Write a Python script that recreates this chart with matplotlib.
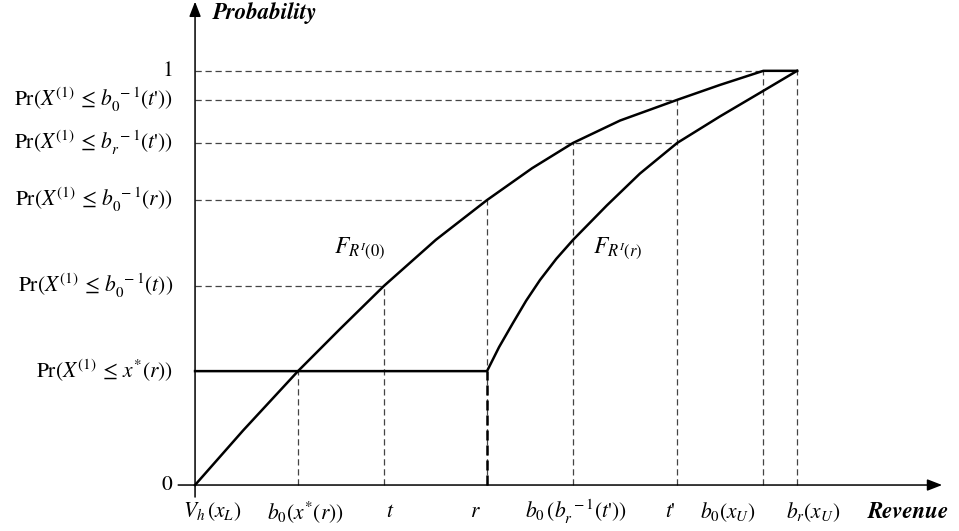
import numpy as np
import matplotlib
matplotlib.use("Agg")
import matplotlib.pyplot as plt

plt.rcParams['mathtext.fontset'] = 'stix'
plt.rcParams['font.family'] = ['STIXGeneral', 'DejaVu Serif']

# revenue positions (normalised, b_r(x_U) = 1)
rev_ticks = [0.0, 0.171, 0.314, 0.485, 0.628, 0.801, 0.944, 1.0]
rev_labels = [r'$V_h\,(x_L)$', r'$b_0(x^{*}(r))$', r'$t$', r'$r$',
              r"$b_0\,(b_r^{\ -1}(t$'$))$", r"$t$'",
              r'$b_0(x_U)$', r'$b_r(x_U)$']
rev_label_x = [0.028, 0.183, 0.324, 0.465, 0.633, 0.789, 0.885, 1.027]

# probability levels
prob_levels = [0.0, 0.275, 0.481, 0.688, 0.826, 0.930, 1.0]
prob_labels = [r'$0$',
               r'$\mathrm{Pr}(X^{(1)}\,\leq\, x^{*}(r))$',
               r'$\mathrm{Pr}(X^{(1)}\,\leq\, b_0^{\ -1}(t))$',
               r'$\mathrm{Pr}(X^{(1)}\,\leq\, b_0^{\ -1}(r))$',
               r"$\mathrm{Pr}(X^{(1)}\,\leq\, b_r^{\ -1}(t$'$))$",
               r"$\mathrm{Pr}(X^{(1)}\,\leq\, b_0^{\ -1}(t$'$))$",
               r'$1$']

# curve F_{R^I(0)}
f0_x = [0.0, 0.08, 0.171, 0.241, 0.314, 0.40, 0.485, 0.56, 0.628, 0.706, 0.801, 0.872, 0.944, 1.0]
f0_y = [0.0, 0.132, 0.275, 0.377, 0.481, 0.592, 0.688, 0.765, 0.826, 0.880, 0.930, 0.966, 1.0, 1.0]

# curve F_{R^I(r)}
fr_x = [0.0, 0.485, 0.505, 0.528, 0.55, 0.573, 0.60, 0.628, 0.684, 0.739, 0.801, 0.872, 0.942, 1.0]
fr_y = [0.275, 0.275, 0.333, 0.391, 0.445, 0.495, 0.546, 0.592, 0.675, 0.752, 0.826, 0.890, 0.950, 1.0]

# dashed guides: (level, x end) and (x, y top)
h_guides = [(1.0, 0.944), (0.930, 0.801), (0.826, 0.801), (0.688, 0.485), (0.481, 0.314)]
v_guides = [(0.171, 0.275), (0.314, 0.481), (0.485, 0.688), (0.628, 0.826),
            (0.801, 0.930), (0.944, 1.0), (1.0, 1.0)]

fig = plt.figure(figsize=(9.59, 5.31), dpi=100)
ax = fig.add_axes([0, 0, 1, 1])
ax.set_xlim(-0.324, 1.269)
ax.set_ylim(-0.111, 1.171)
ax.axis('off')

dash_kw = dict(color='#444444', lw=0.9, ls=(0, (5, 3)))
for lev, xe in h_guides:
    ax.plot([0, xe], [lev, lev], **dash_kw)
for xv, yt in v_guides:
    ax.plot([xv, xv], [0, yt], **dash_kw)
# bold dashed segment under r
ax.plot([0.485, 0.485], [0, 0.275], color='black', lw=1.8, ls=(0, (4, 2)))

ax.plot(f0_x, f0_y, color='black', lw=1.8, solid_joinstyle='round')
ax.plot(fr_x, fr_y, color='black', lw=1.8, solid_joinstyle='round')

# axes with arrows
arr = dict(arrowstyle='-|>,head_length=0.9,head_width=0.35', color='black', lw=1.1,
           shrinkA=0, shrinkB=0)
ax.annotate('', xy=(1.241, 0), xytext=(-0.028, 0), arrowprops=arr)
ax.annotate('', xy=(0, 1.167), xytext=(0, -0.029), arrowprops=arr)

for lev, lab in zip(prob_levels, prob_labels):
    ax.text(-0.037, lev, lab, ha='right', va='center', fontsize=15.5)
for xl, lab in zip(rev_label_x, rev_labels):
    ax.text(xl, -0.065, lab, ha='center', va='center', fontsize=15.5)

ax.text(0.030, 1.140, 'Probability', fontsize=16.5, fontweight='bold',
        fontstyle='italic', ha='left', va='center')
ax.text(1.184, -0.065, 'Revenue', fontsize=16.5, fontweight='bold',
        fontstyle='italic', ha='center', va='center')

ax.text(0.274, 0.572, r'$F_{R^{I}(0)}$', fontsize=17, ha='center', va='center')
ax.text(0.703, 0.572, r'$F_{R^{I}(r)}$', fontsize=17, ha='center', va='center')

fig.savefig('out.png', dpi=100, facecolor='white')
